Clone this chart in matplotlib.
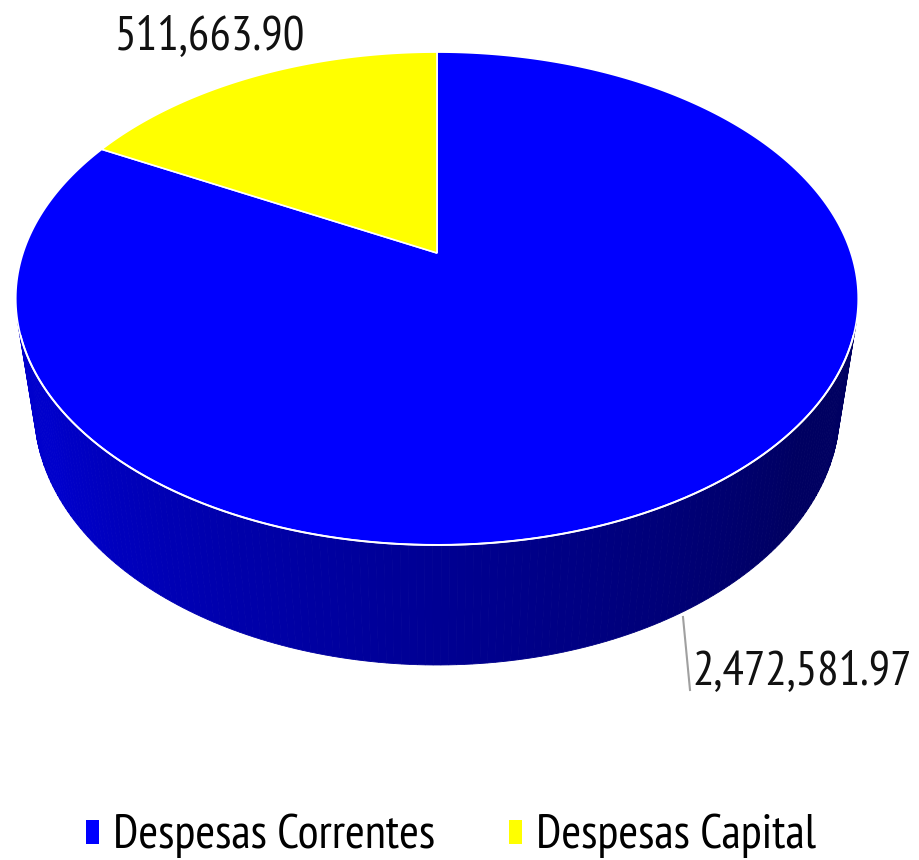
import numpy as np
import matplotlib
matplotlib.use("Agg")
import matplotlib.pyplot as plt
from matplotlib import font_manager
from matplotlib.patches import Polygon, Patch

# fonte estreita parecida com Calibri comprimida
_preferidas = ["PT Sans Narrow", "Fira Sans Condensed", "Open Sans Condensed",
               "Archivo Narrow", "Asap Condensed", "Carlito"]
_disp = {f.name for f in font_manager.fontManager.ttflist}
FONTE = next((f for f in _preferidas if f in _disp), "DejaVu Sans")
plt.rcParams["font.family"] = [FONTE, "DejaVu Sans"]

# dados
categorias = ["Despesas Correntes", "Despesas Capital"]
valores = [2472581.97, 511663.90]
rotulos = ["2,472,581.97", "511,663.90"]
cores = ["#0000FF", "#FFFF00"]

# câmera em perspectiva (aprox. igual ao Excel 3D)
ELEV = np.radians(35.1)
DIST = 4.43
FOCAL = 414 * DIST
ALTURA = 0.343
CX, CY = 437, 253


def proj(x, y, z):
    cam = np.array([0.0, -DIST * np.cos(ELEV), DIST * np.sin(ELEV)])
    fwd = np.array([0.0, np.cos(ELEV), -np.sin(ELEV)])
    up = np.array([0.0, np.sin(ELEV), np.cos(ELEV)])
    rel = np.stack([x - cam[0], y - cam[1], z - cam[2]], axis=-1)
    d = rel @ fwd
    px = CX + FOCAL * rel[..., 0] / d
    py = CY - FOCAL * (rel @ up) / d
    return px, py


def borda(t0, t1, z, n=200):
    t = np.radians(np.linspace(t0, t1, n))
    return proj(np.cos(t), np.sin(t), np.full_like(t, z))


def ajusta_largura(txt, largura, fig):
    # ajusta o tamanho da fonte para ocupar a largura (px) do original
    r = fig.canvas.get_renderer()
    w = txt.get_window_extent(r).width
    txt.set_fontsize(txt.get_fontsize() * largura / w)


fig = plt.figure(figsize=(9.2, 8.6), dpi=100)
ax = fig.add_axes([0, 0, 1, 1])
ax.set_xlim(0, 920)
ax.set_ylim(860, 0)
ax.axis("off")

# lateral visível (frente), sombreada da esquerda para a direita
lim = np.degrees(np.arcsin(-1 / (DIST * np.cos(ELEV))))
t_ini, t_fim = 180 - lim, 360 + lim
ts = np.linspace(t_ini, t_fim, 160)
for i in range(len(ts) - 1):
    xa, ya = borda(ts[i], ts[i + 1], 0.0, 4)
    xb, yb = borda(ts[i + 1], ts[i], -ALTURA, 4)
    f = i / (len(ts) - 2)
    b = 0.80 - 0.42 * min(1.0, max(0.0, (f - 0.1) / 0.75))
    c = (0, 0, b)
    ax.add_patch(Polygon(np.column_stack([np.r_[xa, xb], np.r_[ya, yb]]),
                         closed=True, facecolor=c, edgecolor=c, lw=0.6))

# topo: fatias no sentido horário a partir das 12h
total = sum(valores)
ang = 90.0
cx0, cy0 = proj(np.array(0.0), np.array(0.0), np.array(0.0))
for v, cor in zip(valores, cores):
    a1 = ang - 360 * v / total
    xs, ys = borda(ang, a1, 0.0, 300)
    pts = np.column_stack([np.r_[cx0, xs], np.r_[cy0, ys]])
    ax.add_patch(Polygon(pts, closed=True, facecolor=cor, edgecolor="white", lw=1.2))
    ang = a1

# brilho na borda frontal
xs, ys = borda(t_ini + 3, t_fim - 3, 0.0, 300)
ax.plot(xs, ys, color="white", lw=1.4, solid_capstyle="round")

# rótulos
t_cap = ax.text(115, 49, rotulos[1], fontsize=32, color="#111111", ha="left", va="baseline")
ax.plot([683, 690], [617, 690], color="#a0a0a0", lw=1.5)
t_cor = ax.text(692, 684, rotulos[0], fontsize=32, color="#111111", ha="left", va="baseline")

handles = [Patch(facecolor=c, edgecolor="none") for c in cores]
leg = ax.legend(handles, categorias, loc="center", bbox_to_anchor=(0.49, 0.028),
                ncol=2, frameon=False, fontsize=33, handlelength=0.3, handleheight=0.45,
                handletextpad=0.3, columnspacing=1.6, borderpad=0)

fig.canvas.draw()
ajusta_largura(t_cap, 190, fig)
ajusta_largura(t_cor, 220, fig)
r = fig.canvas.get_renderer()
w_leg = leg.get_texts()[0].get_window_extent(r).width
for t in leg.get_texts():
    t.set_fontsize(33 * 323 / w_leg)

fig.savefig("out.png", dpi=100)
